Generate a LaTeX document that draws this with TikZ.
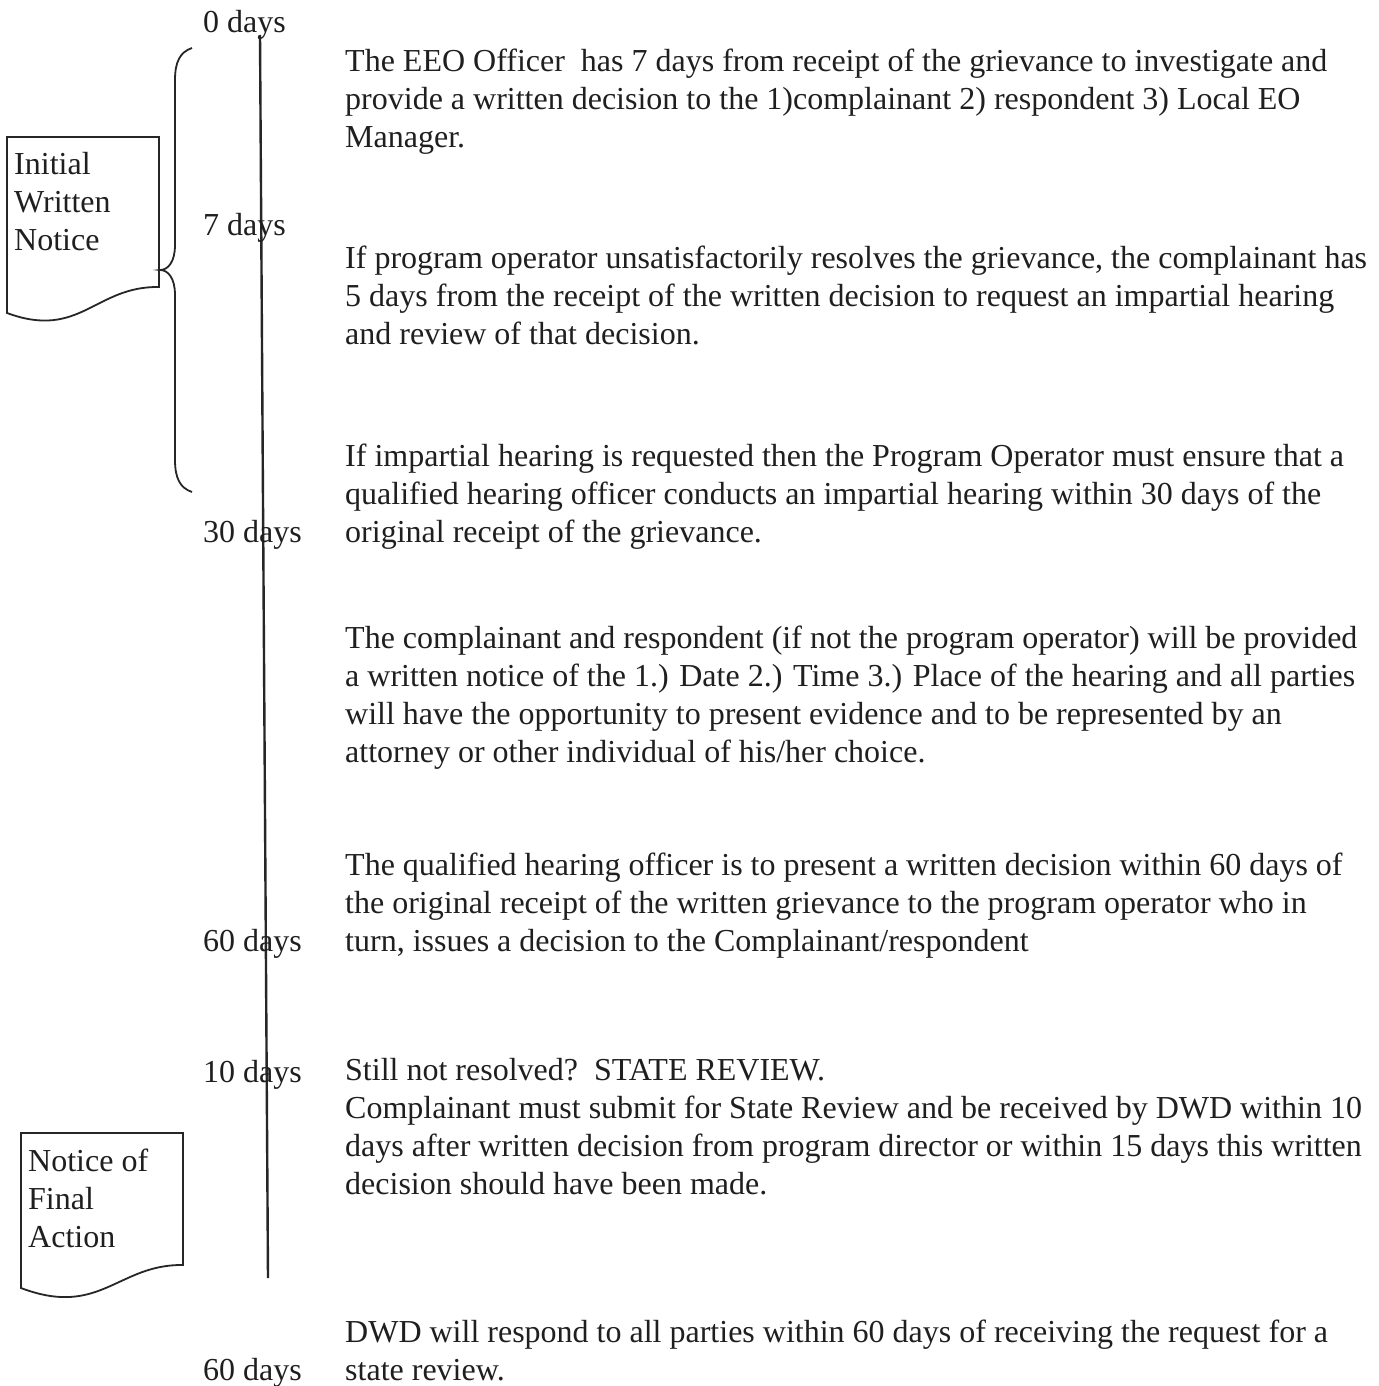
\documentclass[tikz,border=0pt]{standalone}
\usepackage{fontspec}
\setmainfont{Liberation Serif}
\begin{document}
\begin{tikzpicture}[x=1pt,y=-1pt,
  ink/.style={draw=black!85,line width=2.4pt},
  txt/.style={anchor=base west,inner sep=0pt,text=black!88,font=\fontsize{32}{38}\selectfont},
  day/.style={txt},
  blk/.style={txt}]
\useasboundingbox[fill=white] (0,0) rectangle (1378,1386);
% timeline
\coordinate (ltop) at (260,35);
\coordinate (lbot) at (268,1278);
\draw[ink] (ltop) -- (lbot);
% brace
\draw[ink,line width=1.8pt] (192,48) .. controls (180,52) and (175,62) .. (175,80) -- (175,245)
  .. controls (175,262) and (168,270) .. (160,270)
  .. controls (168,270) and (175,278) .. (175,295) -- (175,460)
  .. controls (175,478) and (180,488) .. (192,492);
% document shapes
\draw[ink,line width=1.8pt] (7,137) -- (159,137) -- (159,287)
  .. controls (95,286) and (80,340) .. (7,313) -- cycle;
\draw[ink,line width=1.8pt] (21,1133) -- (183,1133) -- (183,1265)
  .. controls (118,1264) and (100,1318) .. (21,1288) -- cycle;
\node[txt] (doc1) at (14,174) {\parbox[t]{140pt}{Initial\\Written\\Notice}};
\node[txt] (doc2) at (28,1171) {\parbox[t]{150pt}{Notice of\\Final\\Action}};
% day labels
\node[day] (d0) at (203,33) {0 days};
\node[day] (d7) at (203,235) {7 days};
\node[day] (d30) at (203,542) {30 days};
\node[day] (d60a) at (203,951) {60 days};
\node[day] (d10) at (203,1082) {10 days};
\node[day] (d60b) at (203,1380) {60 days};
% text blocks
\node[blk] (b1) at (345,72) {\parbox[t]{1040pt}{The EEO Officer\ \ has 7 days from receipt of the grievance to investigate and\\provide a written decision to the 1)complainant 2) respondent 3) Local EO\\Manager.}};
\node[blk] (b2) at (345,268) {\parbox[t]{1040pt}{If program operator unsatisfactorily resolves the grievance, the complainant has\\5 days from the receipt of the written decision to request an impartial hearing\\and review of that decision.}};
\node[blk] (b3) at (345,466) {\parbox[t]{1040pt}{If impartial hearing is requested then the Program Operator must ensure that a\\qualified hearing officer conducts an impartial hearing within 30 days of the\\original receipt of the grievance.}};
\node[blk] (b4) at (345,648) {\parbox[t]{1040pt}{The complainant and respondent (if not the program operator) will be provided\\a written notice of the 1.) Date 2.) Time 3.) Place of the hearing and all parties\\will have the opportunity to present evidence and to be represented by an\\attorney or other individual of his/her choice.}};
\node[blk] (b5) at (345,875) {\parbox[t]{1040pt}{The qualified hearing officer is to present a written decision within 60 days of\\the original receipt of the written grievance to the program operator who in\\turn, issues a decision to the Complainant/respondent}};
\node[blk] (b6) at (345,1080) {\parbox[t]{1040pt}{Still not resolved?\ \ STATE REVIEW.\\Complainant must submit for State Review and be received by DWD within 10\\days after written decision from program director or within 15 days this written\\decision should have been made.}};
\node[blk] (b7) at (345,1342) {\parbox[t]{1040pt}{DWD will respond to all parties within 60 days of receiving the request for a\\state review.}};
\end{tikzpicture}
\end{document}
